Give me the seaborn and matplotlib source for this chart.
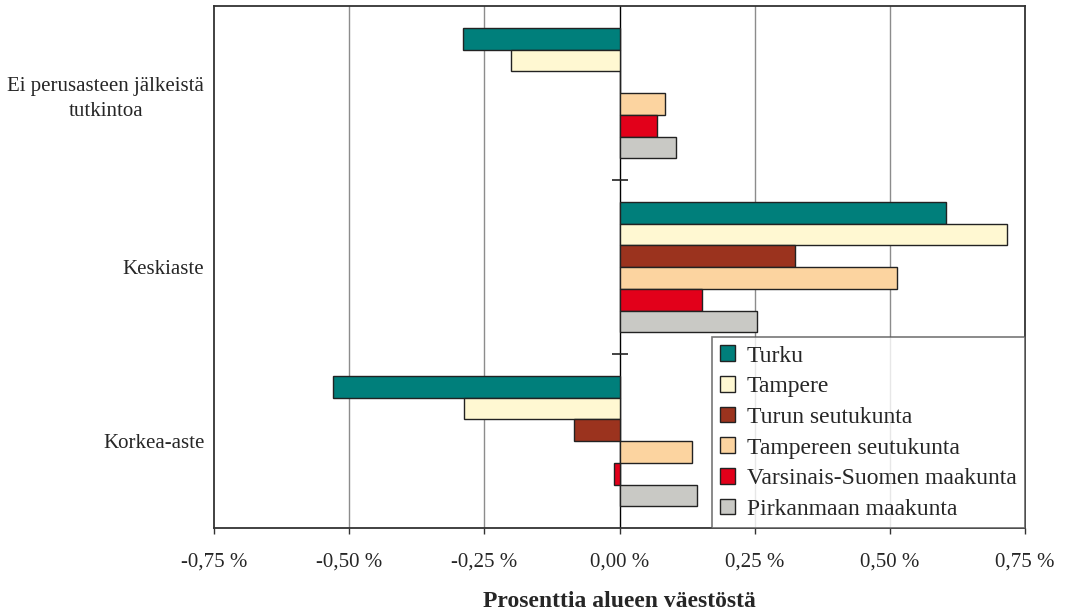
import matplotlib
matplotlib.use("Agg")
import matplotlib.pyplot as plt
import seaborn as sns
import pandas as pd
from matplotlib.ticker import FixedLocator, FuncFormatter

categories = ["Ei perusasteen jälkeistä\ntutkintoa", "Keskiaste", "Korkea-aste"]
series = ["Turku", "Tampere", "Turun seutukunta", "Tampereen seutukunta",
          "Varsinais-Suomen maakunta", "Pirkanmaan maakunta"]
turku = [-0.290, 0.603, -0.530]
tampere = [-0.201, 0.717, -0.287]
turun_seutukunta = [0.0, 0.325, -0.085]
tampereen_seutukunta = [0.085, 0.514, 0.135]
varsinais_suomi = [0.070, 0.152, -0.011]
pirkanmaa = [0.105, 0.255, 0.144]
xticks = [-0.75, -0.50, -0.25, 0.0, 0.25, 0.50, 0.75]

colors = {"Turku": "#007F7B", "Tampere": "#FFF8D2", "Turun seutukunta": "#9B331E",
          "Tampereen seutukunta": "#FCD4A0", "Varsinais-Suomen maakunta": "#E2001A",
          "Pirkanmaan maakunta": "#C9C9C5"}

values = [turku, tampere, turun_seutukunta, tampereen_seutukunta, varsinais_suomi, pirkanmaa]
rows = []
for s, vals in zip(series, values):
    for c, v in zip(categories, vals):
        rows.append({"cat": c, "series": s, "value": v})
df = pd.DataFrame(rows)

sns.set_theme(style="white")
plt.rcParams["font.family"] = ["Liberation Serif", "DejaVu Serif"]

fig = plt.figure(figsize=(10.65, 6.12), dpi=100)
ax = fig.add_axes([214 / 1065, 84 / 612, 811 / 1065, 522 / 612])

sns.barplot(data=df, x="value", y="cat", hue="series", order=categories, hue_order=series,
            palette=colors, orient="h", width=0.75, saturation=1, edgecolor="#222222",
            linewidth=1.0, ax=ax, legend=True, zorder=3)

ax.set_xlim(-0.75, 0.75)
ax.set_ylim(2.5, -0.5)
ax.xaxis.set_major_locator(FixedLocator(xticks))
ax.xaxis.set_major_formatter(FuncFormatter(lambda v, p: f"{v:.2f}".replace(".", ",") + " %"))
for t in xticks[1:-1]:
    ax.axvline(t, color="#000000" if t == 0 else "#8C8C8C", lw=1.0, zorder=1)
# small marks on the zero line between categories
ax.plot([0, 0], [0.5, 1.5], ls="none", marker="_", ms=12, mew=1.2, color="#222222", zorder=4)

for sp in ax.spines.values():
    sp.set_color("#333333")
    sp.set_linewidth(1.3)

ax.tick_params(axis="x", direction="out", length=4, width=1, color="#333333",
               labelsize=15, pad=14, bottom=True)
ax.tick_params(axis="y", length=0, labelsize=15, pad=7)
for lab in ax.get_yticklabels():
    lab.set_multialignment("center")
    lab.set_linespacing(1.5)
ax.set_ylabel("")
ax.set_xlabel("Prosenttia alueen väestöstä", fontsize=17, fontweight="bold", labelpad=14)

leg = ax.legend(loc="lower right", bbox_to_anchor=(1.0, 0.0), borderaxespad=0.0,
                fontsize=17, frameon=True, fancybox=False, handlelength=0.65,
                handleheight=0.65, handletextpad=0.5, labelspacing=0.4,
                borderpad=0.35, title=None)
leg.get_frame().set_edgecolor("#555555")
leg.get_frame().set_linewidth(1.2)
leg.set_zorder(5)
for h in leg.legend_handles:
    h.set_edgecolor("#222222")
    h.set_linewidth(1.0)

fig.savefig("out.png", dpi=100)
